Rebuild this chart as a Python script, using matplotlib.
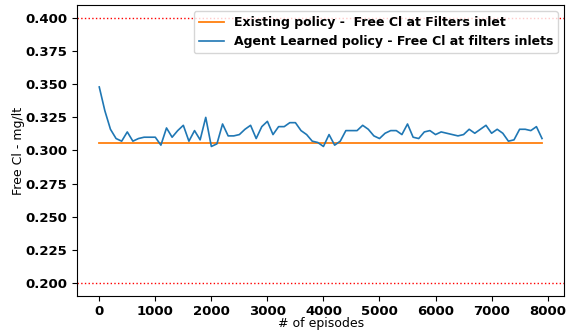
import matplotlib
matplotlib.use("Agg")
import matplotlib.pyplot as plt
import numpy as np

episodes = list(range(0, 8000, 100))
agent_cl = [
    0.348, 0.330, 0.316, 0.309, 0.307, 0.314, 0.307, 0.309, 0.310, 0.310,
    0.310, 0.304, 0.317, 0.310, 0.315, 0.319, 0.307, 0.315, 0.308, 0.325,
    0.303, 0.305, 0.320, 0.311, 0.311, 0.312, 0.316, 0.319, 0.309, 0.318,
    0.322, 0.312, 0.318, 0.318, 0.321, 0.321, 0.315, 0.312, 0.307, 0.306,
    0.303, 0.312, 0.304, 0.307, 0.315, 0.315, 0.315, 0.319, 0.316, 0.311,
    0.309, 0.313, 0.315, 0.315, 0.312, 0.320, 0.310, 0.309, 0.314, 0.315,
    0.312, 0.314, 0.313, 0.312, 0.311, 0.312, 0.316, 0.313, 0.316, 0.319,
    0.313, 0.316, 0.313, 0.307, 0.308, 0.316, 0.316, 0.315, 0.318, 0.309,
]
existing_cl = [0.3057] * len(episodes)
upper_limit = 0.4
lower_limit = 0.2

fig = plt.figure(figsize=(5.67, 3.31), dpi=100)
ax = fig.add_axes([0.136, 0.106, 0.859, 0.879])

ax.plot(episodes, existing_cl, color="#ff7f0e", lw=1.3,
        label="Existing policy -  Free Cl at Filters inlet")
ax.plot(episodes, agent_cl, color="#1f77b4", lw=1.2,
        label="Agent Learned policy - Free Cl at filters inlets")
ax.axhline(upper_limit, color="red", ls=":", lw=1.0)
ax.axhline(lower_limit, color="red", ls=":", lw=1.0)

ax.set_ylim(0.19, 0.41)
ax.set_xlim(-395, 8295)
yt = np.arange(0.2, 0.4001, 0.025)
ax.set_yticks(yt)
ax.set_yticklabels([f"{v:.3f}" for v in yt])
ax.set_xticks(range(0, 8001, 1000))
for lbl in ax.get_xticklabels() + ax.get_yticklabels():
    lbl.set_fontweight("bold")
    lbl.set_fontsize(9.5)
ax.tick_params(axis="x", pad=3)

ax.set_xlabel("# of episodes", fontsize=9, labelpad=-1)
ax.set_ylabel("Free Cl - mg/lt", fontsize=9, labelpad=0)

leg = ax.legend(loc="upper right", prop={"weight": "bold", "size": 9},
                borderaxespad=0.5, handlelength=2.0)

fig.savefig("out.png", dpi=100)
